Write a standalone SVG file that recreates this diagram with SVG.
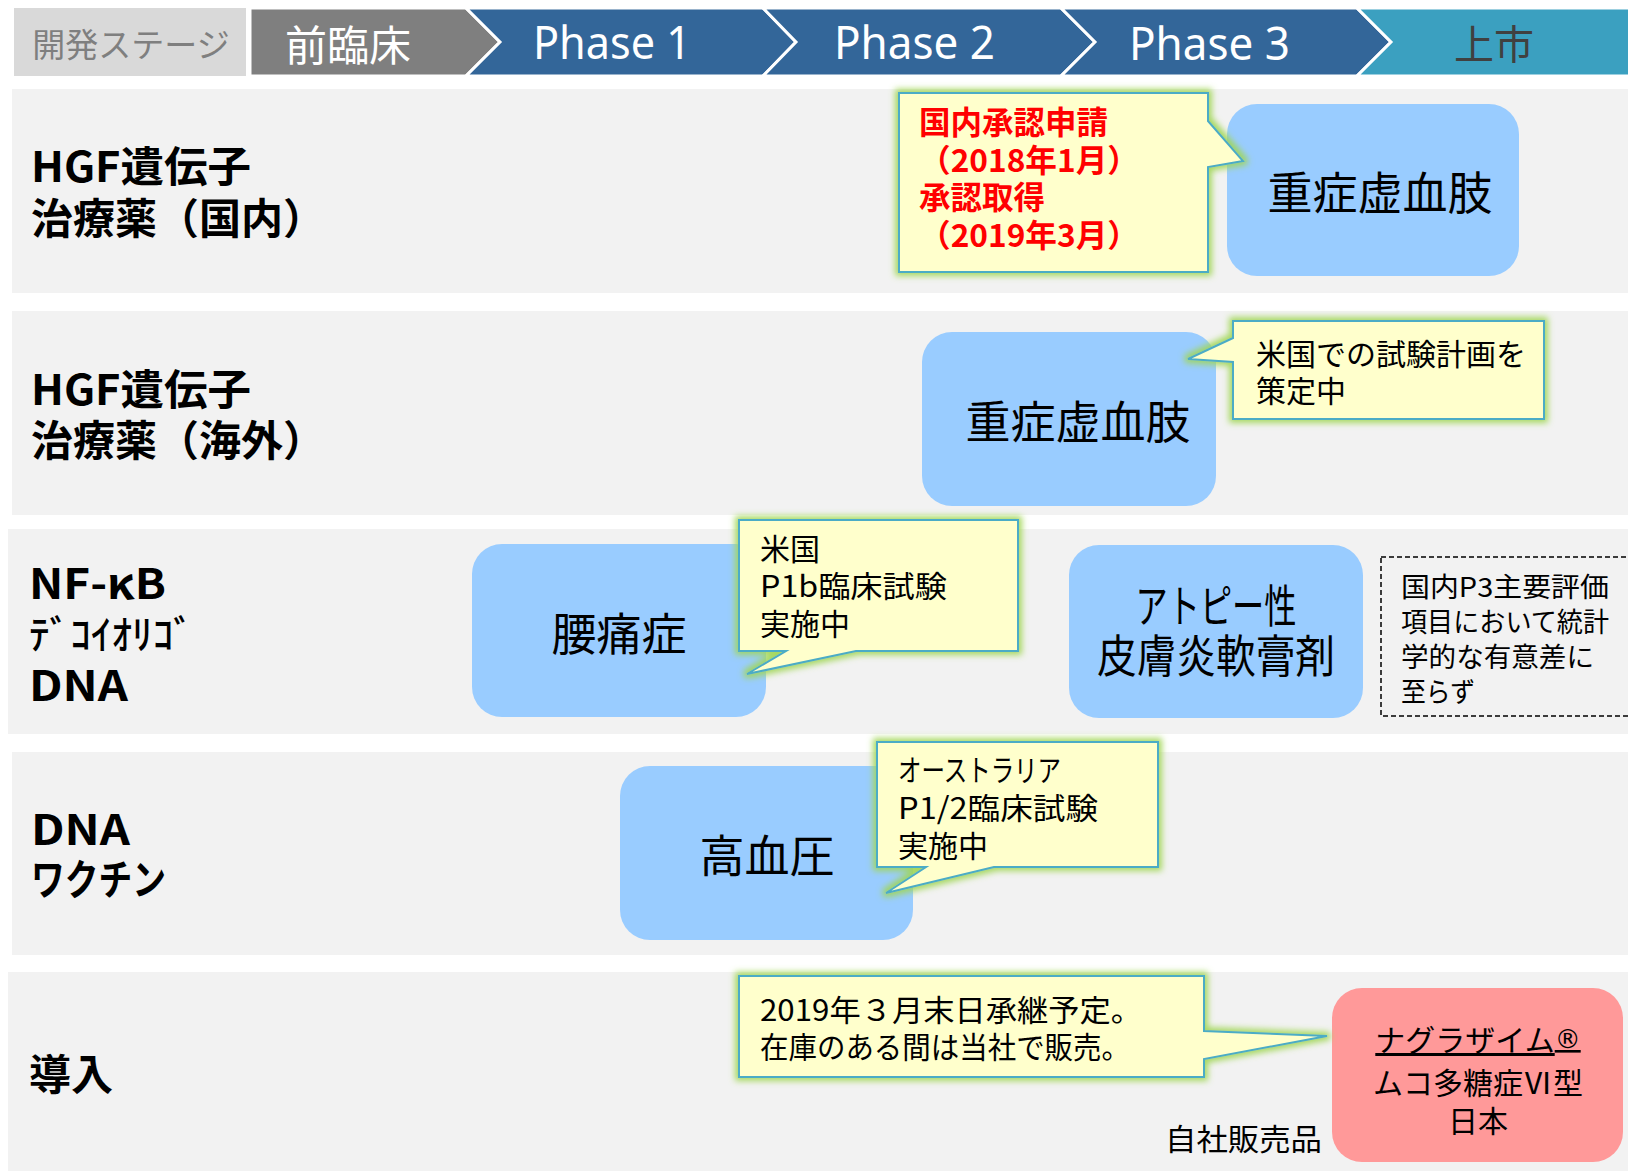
<svg xmlns="http://www.w3.org/2000/svg" width="1628" height="1171" viewBox="0 0 1628 1171">
<defs>
<style>
.row{fill:#f2f2f2}
.lbl{font-family:"Noto Sans CJK JP","Noto Sans",sans-serif;font-weight:700;font-size:42px;fill:#000}
.hk{font-family:"Noto Sans CJK JP",sans-serif;font-weight:500;font-size:40px;fill:#000}
.chev{stroke:#fff;stroke-width:3}
.ph{font-family:"Noto Sans","Noto Sans CJK JP",sans-serif;font-size:46px;fill:#fff}
.hd{font-family:"Noto Sans CJK JP",sans-serif}
.box{fill:#99ccff}
.bt{font-family:"Noto Sans CJK JP",sans-serif;font-size:45px;fill:#000;text-anchor:middle}
.co{fill:#ffffcc;stroke:#4bacc6;stroke-width:2;filter:url(#glow)}
.ct{font-family:"Noto Sans CJK JP",sans-serif;font-size:30px;fill:#000}
.dt{font-family:"Noto Sans CJK JP",sans-serif;font-size:27px;fill:#000}
.rt{font-family:"Noto Sans CJK JP",sans-serif;font-size:31.5px;font-weight:700;fill:#ff0000}
.pt{font-family:"Noto Sans CJK JP",sans-serif;font-size:30px;fill:#000;text-anchor:middle}
</style>
<filter id="glow" x="-20%" y="-20%" width="140%" height="140%">
<feMorphology in="SourceAlpha" operator="dilate" radius="3" result="d"/>
<feGaussianBlur in="d" stdDeviation="3" result="b"/>
<feFlood flood-color="#9fd653" flood-opacity="0.9"/>
<feComposite in2="b" operator="in" result="g"/>
<feMerge><feMergeNode in="g"/><feMergeNode in="SourceGraphic"/></feMerge>
</filter>
</defs>
<rect width="1628" height="1171" fill="#ffffff"/>

<g id="rows">
<rect class="row" x="12" y="89" width="1616" height="204"/>
<rect class="row" x="12" y="311" width="1616" height="204"/>
<rect class="row" x="8" y="529" width="1620" height="205"/>
<rect class="row" x="12" y="752" width="1616" height="203"/>
<rect class="row" x="8" y="972" width="1620" height="199"/>
</g>

<g id="header">
<g id="stage-label">
<rect x="14" y="8" width="232" height="68" fill="#d9d9d9"/>
<text class="hd" x="131" y="57" font-size="33" fill="#7f7f7f" text-anchor="middle">開発ステージ</text>
</g>
<g id="stage-preclinical">
<polygon class="chev" points="250,8 466,8 500,42 466,76 250,76" fill="#7f7f7f"/>
<text class="hd" x="285" y="61" font-size="42" fill="#fff">前臨床</text>
</g>
<g id="stage-phase1">
<polygon class="chev" points="466,8 763,8 796,42 763,76 466,76 500,42" fill="#336699"/>
<text class="ph" x="533" y="59" textLength="158" lengthAdjust="spacingAndGlyphs">Phase 1</text>
</g>
<g id="stage-phase2">
<polygon class="chev" points="763,8 1061,8 1095,42 1061,76 763,76 796,42" fill="#336699"/>
<text class="ph" x="834" y="59" textLength="161" lengthAdjust="spacingAndGlyphs">Phase 2</text>
</g>
<g id="stage-phase3">
<polygon class="chev" points="1061,8 1357,8 1391,42 1357,76 1061,76 1095,42" fill="#336699"/>
<text class="ph" x="1129" y="60" textLength="161" lengthAdjust="spacingAndGlyphs">Phase 3</text>
</g>
<g id="stage-market">
<polygon class="chev" points="1357,8 1630,8 1630,76 1357,76 1391,42" fill="#3ba0c0"/>
<text class="hd" x="1454" y="59" font-size="40" fill="#404040">上市</text>
</g>
</g>

<g id="row-labels">
<g id="label-hgf-jp">
<text class="lbl" x="31" y="182" textLength="220" lengthAdjust="spacingAndGlyphs">HGF遺伝子</text>
<text class="lbl" x="31" y="234">治療薬（国内）</text>
</g>
<g id="label-hgf-ov">
<text class="lbl" x="31" y="405" textLength="220" lengthAdjust="spacingAndGlyphs">HGF遺伝子</text>
<text class="lbl" x="31" y="456">治療薬（海外）</text>
</g>
<g id="label-nfkb">
<text class="lbl" x="29" y="599" textLength="137" lengthAdjust="spacingAndGlyphs">NF-κB</text>
<text class="hk" x="29" y="649" textLength="165" lengthAdjust="spacingAndGlyphs">ﾃﾞｺｲｵﾘｺﾞ</text>
<text class="lbl" x="29" y="701" textLength="99" lengthAdjust="spacingAndGlyphs">DNA</text>
</g>
<g id="label-vaccine">
<text class="lbl" x="31" y="845" textLength="99" lengthAdjust="spacingAndGlyphs">DNA</text>
<text class="lbl" x="31" y="895" textLength="135" lengthAdjust="spacingAndGlyphs">ワクチン</text>
</g>
<g id="label-intro">
<text class="lbl" x="29" y="1090">導入</text>
</g>
</g>

<g id="connectors"></g>

<g id="node-cli-jp">
<rect class="box" x="1227" y="104" width="292" height="172" rx="30"/>
<text class="bt" x="1380" y="210">重症虚血肢</text>
</g>
<g id="node-cli-ov">
<rect class="box" x="922" y="332" width="294" height="174" rx="30"/>
<text class="bt" x="1078" y="439">重症虚血肢</text>
</g>
<g id="node-lbp">
<rect class="box" x="472" y="544" width="294" height="173" rx="30"/>
<text class="bt" x="619" y="651" font-size="47">腰痛症</text>
</g>
<g id="node-ad">
<rect class="box" x="1069" y="545" width="294" height="173" rx="30"/>
<text class="bt" x="1216" y="623" font-size="38" textLength="161" lengthAdjust="spacingAndGlyphs">アトピー性</text>
<text class="bt" x="1216" y="673" font-size="38" textLength="238" lengthAdjust="spacingAndGlyphs">皮膚炎軟膏剤</text>
</g>
<g id="node-ht">
<rect class="box" x="620" y="766" width="293" height="174" rx="30"/>
<text class="bt" x="767" y="873" font-size="47">高血圧</text>
</g>
<g id="node-nag">
<rect x="1332" y="988" width="291" height="174" rx="30" fill="#ff9999"/>
<text class="pt" x="1478" y="1051" text-decoration="underline">ナグラザイム<tspan font-family="DejaVu Sans" font-size="26" dy="-3">®</tspan></text>
<text class="pt" x="1478" y="1094">ムコ多糖症Ⅵ型</text>
<text class="pt" x="1478" y="1132">日本</text>
</g>
<g id="note-own">
<text class="ct" x="1165" y="1150" font-size="32" textLength="157" lengthAdjust="spacingAndGlyphs">自社販売品</text>
</g>

<g id="note-p3">
<rect x="1381" y="557" width="260" height="159" fill="none" stroke="#000" stroke-width="1.5" stroke-dasharray="5,3"/>
<text class="dt" x="1401" y="597" textLength="208" lengthAdjust="spacingAndGlyphs">国内P3主要評価</text>
<text class="dt" x="1401" y="632" textLength="208" lengthAdjust="spacingAndGlyphs">項目において統計</text>
<text class="dt" x="1401" y="667" textLength="193" lengthAdjust="spacingAndGlyphs">学的な有意差に</text>
<text class="dt" x="1401" y="702" textLength="74" lengthAdjust="spacingAndGlyphs">至らず</text>
</g>

<g id="callout-approval">
<path class="co" d="M899,93 H1208 V121 L1243,161 L1208,167 V272 H899 Z"/>
<text class="rt" x="919" y="134">国内承認申請</text>
<text class="rt" x="919" y="172" textLength="220" lengthAdjust="spacingAndGlyphs">（2018年1月）</text>
<text class="rt" x="919" y="209">承認取得</text>
<text class="rt" x="919" y="247" textLength="220" lengthAdjust="spacingAndGlyphs">（2019年3月）</text>
</g>
<g id="callout-us-plan">
<path class="co" d="M1233,321 H1544 V419 H1233 V362 L1188,359 L1233,338 Z"/>
<text class="ct" x="1256" y="365">米国での試験計画を</text>
<text class="ct" x="1256" y="402">策定中</text>
</g>
<g id="callout-p1b">
<path class="co" d="M739,520 H1018 V651 H856 L747,674 L786,651 H739 Z"/>
<text class="ct" x="760" y="560">米国</text>
<text class="ct" x="760" y="597" textLength="187" lengthAdjust="spacingAndGlyphs">P1b臨床試験</text>
<text class="ct" x="760" y="635">実施中</text>
</g>
<g id="callout-p12">
<path class="co" d="M877,742 H1158 V867 H994 L886,893 L926,867 H877 Z"/>
<text class="ct" x="898" y="781" textLength="163" lengthAdjust="spacingAndGlyphs">オーストラリア</text>
<text class="ct" x="898" y="819" textLength="200" lengthAdjust="spacingAndGlyphs">P1/2臨床試験</text>
<text class="ct" x="898" y="857">実施中</text>
</g>
<g id="callout-transfer">
<path class="co" d="M739,976 H1204 V1031 L1327,1036 L1204,1059 V1077 H739 Z"/>
<text class="ct" x="760" y="1021" textLength="382" lengthAdjust="spacingAndGlyphs">2019年３月末日承継予定。</text>
<text class="ct" x="760" y="1058" textLength="370" lengthAdjust="spacingAndGlyphs">在庫のある間は当社で販売。</text>
</g>
</svg>
